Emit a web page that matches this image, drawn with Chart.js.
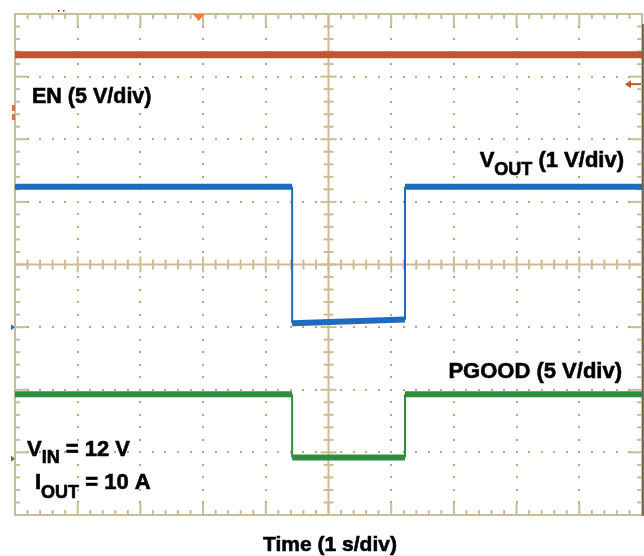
<!DOCTYPE html>
<html lang="en">
<head>
    <meta charset="UTF-8">
    <title>EN / VOUT / PGOOD</title>
    <script src="https://cdn.jsdelivr.net/npm/chart.js"></script>
    <style>
        body, html {
            margin: 0;
            background: #ffffff;
        }
        canvas {
            display: block;
        }
    </style>
</head>
<body>
    <canvas id="scope" width="644" height="556"></canvas>

    <script>
        // time in s (1 s/div), levels in screen divisions (0 = bottom, 8 = top)
        const enTime = [0, 10];
        const enLevel = [7.35, 7.35];

        const voutTime = [0, 4.42, 4.42, 6.22, 6.22, 10];
        const voutLevel = [5.24, 5.24, 3.06, 3.12, 5.24, 5.24];

        const pgoodTime = [0, 4.42, 4.42, 6.22, 6.22, 10];
        const pgoodLevel = [1.93, 1.93, 0.92, 0.92, 1.93, 1.93];

        const divsX = 10;
        const divsY = 8;

        // channel ground markers and trigger positions
        const markerLevels = { en: 6.42, vout: 3.0, pgood: 0.9 };
        const triggerTime = 2.93;
        const triggerLevel = 6.88;

        const colEN = '#bf5630';
        const colVOUT = '#1f6cbf';
        const colPGOOD = '#2f8d3f';
        const colGrid = '#cbbc96';
        const colDot = '#bba97c';

        function pts(t, v) {
            return t.map(function (x, i) { return { x: x, y: v[i] }; });
        }

        function seg(ctx) {
            return ctx.p0.parsed.x === ctx.p1.parsed.x ? 2 : 6;
        }

        function line(ctx, x1, y1, x2, y2) {
            ctx.beginPath();
            ctx.moveTo(x1, y1);
            ctx.lineTo(x2, y2);
            ctx.stroke();
        }

        const graticule = {
            id: 'graticule',
            beforeDatasetsDraw: function (chart) {
                const ctx = chart.ctx;
                const sx = chart.scales.x, sy = chart.scales.y;
                const px = function (v) { return sx.getPixelForValue(v); };
                const py = function (v) { return sy.getPixelForValue(v); };
                ctx.save();

                // dotted division lines
                ctx.fillStyle = colDot;
                for (let i = 1; i < divsX; i++) {
                    if (i === divsX / 2) continue;
                    for (let s = 1; s < divsY * 5; s++) {
                        ctx.fillRect(Math.round(px(i)) - 1, Math.round(py(s * 0.2)) - 1, 2, 2);
                    }
                }
                for (let j = 1; j < divsY; j++) {
                    if (j === divsY / 2) continue;
                    for (let s = 1; s < divsX * 5; s++) {
                        ctx.fillRect(Math.round(px(s * 0.2)) - 1, Math.round(py(j)) - 1, 2, 2);
                    }
                }

                ctx.strokeStyle = colGrid;
                ctx.lineWidth = 2;

                // center crosshair with ticks
                const cx = px(divsX / 2), cy = py(divsY / 2);
                line(ctx, cx, py(0), cx, py(divsY));
                line(ctx, px(0), cy, px(divsX), cy);
                for (let s = 1; s < divsX * 5; s++) {
                    const len = s % 5 === 0 ? 8 : 5;
                    const x = px(s * 0.2);
                    line(ctx, x, cy - len, x, cy + len);
                }
                for (let s = 1; s < divsY * 5; s++) {
                    const len = s % 5 === 0 ? 8 : 5;
                    const y = py(s * 0.2);
                    line(ctx, cx - len, y, cx + len, y);
                }

                // frame with inward ticks
                ctx.strokeRect(px(0), py(divsY), px(divsX) - px(0), py(0) - py(divsY));
                for (let s = 1; s < divsX * 5; s++) {
                    const len = s % 5 === 0 ? 12 : 5;
                    const x = px(s * 0.2);
                    line(ctx, x, py(divsY), x, py(divsY) + len);
                    line(ctx, x, py(0), x, py(0) - len);
                }
                for (let s = 1; s < divsY * 5; s++) {
                    const len = s % 5 === 0 ? 12 : 5;
                    const y = py(s * 0.2);
                    line(ctx, px(0), y, px(0) + len, y);
                    line(ctx, px(divsX), y, px(divsX) - len, y);
                }

                // dark right edge
                ctx.strokeStyle = '#4a4636';
                ctx.lineWidth = 1.5;
                line(ctx, px(divsX) + 1, py(divsY) + 10, px(divsX) + 1, py(0) + 1);
                ctx.restore();
            }
        };

        function drawSub(ctx, parts, x, y, align) {
            // parts: [text, size, baselineShift]
            let total = 0;
            parts.forEach(function (p) {
                ctx.font = 'bold ' + p[1] + 'px "Liberation Sans", Arial, sans-serif';
                total += ctx.measureText(p[0]).width;
            });
            let cur = align === 'right' ? x - total : (align === 'center' ? x - total / 2 : x);
            parts.forEach(function (p) {
                ctx.font = 'bold ' + p[1] + 'px "Liberation Sans", Arial, sans-serif';
                ctx.fillText(p[0], cur, y + p[2]);
                ctx.strokeText(p[0], cur, y + p[2]);
                cur += ctx.measureText(p[0]).width;
            });
        }

        const markers = {
            id: 'markers',
            afterDraw: function (chart) {
                const ctx = chart.ctx;
                const sx = chart.scales.x, sy = chart.scales.y;
                const x0 = sx.getPixelForValue(0);
                const x1 = sx.getPixelForValue(divsX);
                const yTop = sy.getPixelForValue(divsY);
                ctx.save();

                // trigger position marker on top edge
                const tx = sx.getPixelForValue(triggerTime);
                ctx.fillStyle = '#f27b3b';
                ctx.beginPath();
                ctx.moveTo(tx - 6, yTop);
                ctx.lineTo(tx + 6, yTop);
                ctx.lineTo(tx, yTop + 7);
                ctx.closePath();
                ctx.fill();

                // little dots above the frame
                ctx.fillStyle = '#333';
                ctx.fillRect(x0 + 43, yTop - 4, 1.5, 1.5);
                ctx.fillRect(x0 + 48, yTop - 4, 1.5, 1.5);

                // channel markers on the left edge
                const ye = sy.getPixelForValue(markerLevels.en);
                ctx.fillStyle = '#d4733f';
                ctx.fillRect(x0 - 3, ye - 8, 3, 6);
                ctx.fillRect(x0 - 3, ye + 1, 3, 6);

                [[markerLevels.vout, colVOUT], [markerLevels.pgood, colPGOOD]].forEach(function (m) {
                    const y = sy.getPixelForValue(m[0]);
                    ctx.fillStyle = m[1];
                    ctx.beginPath();
                    ctx.moveTo(x0 - 4, y - 3);
                    ctx.lineTo(x0, y);
                    ctx.lineTo(x0 - 4, y + 3);
                    ctx.closePath();
                    ctx.fill();
                });

                // trigger level arrow on the right edge
                const ty = sy.getPixelForValue(triggerLevel);
                ctx.strokeStyle = colEN;
                ctx.fillStyle = colEN;
                ctx.lineWidth = 2;
                line(ctx, x1 - 12, ty, x1 - 1, ty);
                ctx.beginPath();
                ctx.moveTo(x1 - 17, ty);
                ctx.lineTo(x1 - 11, ty - 4);
                ctx.lineTo(x1 - 11, ty + 4);
                ctx.closePath();
                ctx.fill();

                // labels
                ctx.fillStyle = '#000';
                ctx.strokeStyle = '#000';
                ctx.lineWidth = 0.6;
                ctx.textBaseline = 'alphabetic';
                drawSub(ctx, [['EN (5 V/div)', 21.5, 0]], 32, 103, 'left');
                drawSub(ctx, [['V', 22, 0], ['OUT', 18, 8], [' (1 V/div)', 22, 0]], 624, 167, 'right');
                drawSub(ctx, [['PGOOD (5 V/div)', 22, 0]], 622, 378, 'right');
                drawSub(ctx, [['V', 22, 0], ['IN', 18, 7], [' = 12 V', 22, 0]], 27, 456, 'left');
                drawSub(ctx, [['I', 22, 0], ['OUT', 18, 9], [' = 10 A', 22, 0]], 35, 489, 'left');
                drawSub(ctx, [['Time (1 s/div)', 21, 0]], 330, 551, 'center');
                ctx.restore();
            }
        };

        window.onload = function () {
            const ctx = document.getElementById('scope').getContext('2d');
            new Chart(ctx, {
                type: 'line',
                data: {
                    datasets: [
                        {
                            label: 'EN',
                            data: pts(enTime, enLevel),
                            borderColor: colEN,
                            borderWidth: 7,
                            pointRadius: 0
                        },
                        {
                            label: 'VOUT',
                            data: pts(voutTime, voutLevel),
                            borderColor: colVOUT,
                            borderWidth: 6,
                            pointRadius: 0,
                            segment: { borderWidth: seg }
                        },
                        {
                            label: 'PGOOD',
                            data: pts(pgoodTime, pgoodLevel),
                            borderColor: colPGOOD,
                            borderWidth: 6,
                            pointRadius: 0,
                            segment: { borderWidth: seg }
                        }
                    ]
                },
                options: {
                    responsive: false,
                    animation: false,
                    layout: {
                        padding: { left: 15, top: 14, right: 2, bottom: 41 }
                    },
                    scales: {
                        x: { type: 'linear', min: 0, max: divsX, display: false },
                        y: { type: 'linear', min: 0, max: divsY, display: false }
                    },
                    plugins: {
                        legend: { display: false },
                        tooltip: { enabled: false }
                    }
                },
                plugins: [graticule, markers]
            });
        };
    </script>
</body>
</html>
